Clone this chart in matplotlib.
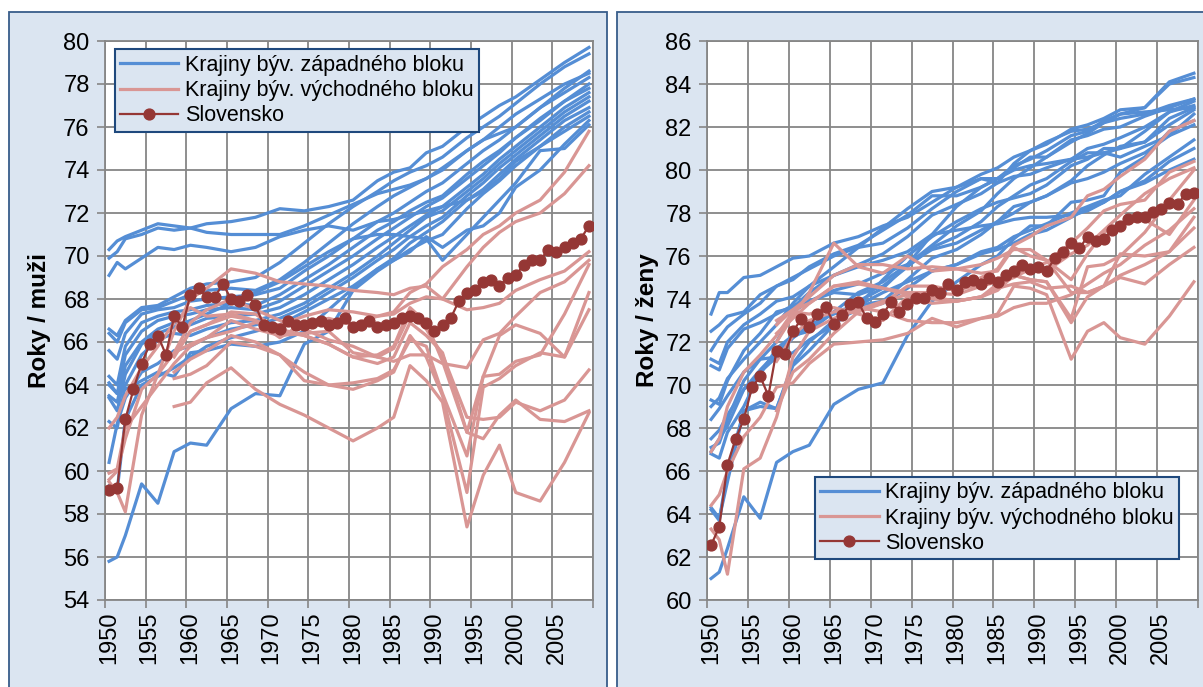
import numpy as np
import matplotlib.pyplot as plt
from matplotlib.patches import Rectangle
from matplotlib.lines import Line2D

plt.rcParams['font.family'] = ['Liberation Sans', 'DejaVu Sans']

# roky pre vsetky krajiny (vybrane body), Slovensko ma kazdy rok
roky = [1950, 1951, 1952, 1954, 1956, 1958, 1960, 1962, 1965, 1968, 1971, 1974, 1977,
        1980, 1983, 1985, 1987, 1989, 1991, 1994, 1996, 1998, 2000, 2003, 2006, 2009]
roky_sk = list(range(1950, 2010))
N = None

# muzi - krajiny byv. zapadneho bloku
muzi_zapad = [
    [70.3, 70.7, 70.9, 71.2, 71.5, 71.4, 71.3, 71.5, 71.6, 71.8, 72.2, 72.1, 72.3, 72.6, 73.5, 73.9, 74.1, 74.8, 75.1, 76.0, 76.5, 77.0, 77.4, 78.2, 79.0, 79.7],
    [69.9, 70.2, 70.8, 71.0, 71.3, 71.2, 71.3, 71.1, 71.0, 71.0, 71.0, 71.4, 71.9, 72.4, 72.9, 73.1, 73.3, 73.6, 74.1, 74.9, 75.4, 75.7, 76.0, 76.9, 77.8, 78.6],
    [69.1, 69.7, 69.4, 69.9, 70.4, 70.3, 70.5, 70.4, 70.2, 70.4, 70.9, 71.2, 71.4, 71.2, 71.6, 71.7, 71.9, 72.1, 72.3, 72.6, 73.0, 73.6, 74.4, 75.1, 76.0, 76.7],
    [66.6, 66.3, 67.0, 67.6, 67.7, 68.1, 68.5, 68.7, 68.8, 69.0, 69.7, 70.6, 71.5, 72.3, 73.0, 73.5, 73.9, 74.2, 74.6, 75.5, 76.0, 76.5, 77.1, 78.0, 78.8, 79.4],
    [66.4, 66.0, 66.9, 67.5, 67.6, 67.9, 68.2, 68.4, 68.5, 68.4, 68.9, 69.7, 70.6, 71.5, 72.3, 72.8, 73.2, 73.6, 74.0, 74.9, 75.4, 76.0, 76.6, 77.3, 78.0, 78.5],
    [65.6, 65.2, 66.4, 67.3, 67.5, 67.6, 67.9, 68.0, 68.1, 68.2, 68.5, 69.3, 70.0, 70.8, 71.6, 72.0, 72.5, 73.0, 73.4, 74.3, 74.9, 75.4, 76.0, 76.9, 77.6, 78.3],
    [64.4, 64.0, 65.8, 66.9, 67.2, 67.4, 67.5, 67.7, 67.8, 67.7, 68.2, 68.9, 69.6, 70.4, 71.2, 71.6, 72.1, 72.5, 72.8, 73.8, 74.4, 74.9, 75.5, 76.3, 77.2, 78.0],
    [64.1, 63.6, 65.4, 66.5, 67.0, 67.2, 67.3, 67.5, 67.6, 67.5, 67.9, 68.6, 69.3, 70.0, 70.8, 71.3, 71.8, 72.3, 72.7, 73.6, 74.2, 74.8, 75.5, 76.4, 77.2, 77.8],
    [63.5, 63.2, 64.9, 66.0, 66.6, 66.9, 66.8, 67.1, 67.2, 67.3, 67.6, 68.2, 68.9, 69.6, 70.4, 70.9, 71.4, 71.9, 72.3, 73.2, 73.8, 74.5, 75.1, 76.0, 76.9, 77.6],
    [62.3, 62.0, 64.0, 65.4, 66.1, 66.4, 66.3, 66.6, 66.9, 67.0, 67.3, 67.8, 68.5, 69.2, 70.0, 70.6, 71.2, 71.8, 72.1, 73.0, 73.6, 74.3, 74.9, 75.8, 76.7, 77.4],
    [60.4, 62.2, 63.4, 64.6, 65.0, 65.6, 65.8, 66.2, 66.6, 66.8, 67.1, 67.6, 68.3, 69.0, 69.8, 70.3, 70.9, 71.4, 71.8, 72.8, 73.4, 74.1, 74.7, 75.6, 76.5, 77.2],
    [59.3, 59.1, 62.4, 64.0, 64.4, 64.8, 65.3, 65.8, 66.2, 66.5, 66.8, 67.4, 68.0, 68.6, 69.4, 69.9, 70.6, 71.1, 71.6, 72.6, 73.1, 73.8, 74.5, 75.4, 76.3, 76.9],
    [64.0, 63.6, 63.8, 64.2, 64.6, 64.4, 65.5, 65.6, 65.9, 65.8, 66.0, 66.5, 67.5, 68.5, 69.4, 69.8, 70.3, 70.7, 71.0, 72.2, 72.9, 73.5, 74.2, 75.1, 75.8, 76.5],
    [63.4, 62.8, 64.5, 65.9, 66.4, 66.7, 67.0, 67.3, 67.8, 68.3, 68.8, 69.5, 70.2, 70.8, 71.0, 71.0, 70.9, 70.8, 69.8, 71.0, 71.8, 72.6, 73.4, 74.9, 75.0, 76.1],
    [55.8, 56.0, 57.0, 59.4, 58.5, 60.9, 61.3, 61.2, 62.9, 63.6, 63.5, 65.9, 66.5, 68.4, 69.3, 69.8, 70.2, 70.9, 70.4, 71.2, 71.4, 72.0, 73.2, 74.0, 75.2, 76.3],
]

# muzi - krajiny byv. vychodneho bloku
muzi_vychod = [
    [62.0, 62.5, 63.5, 64.8, 65.8, 66.9, 67.6, 67.2, 67.3, 67.0, 66.2, 66.9, 67.1, 66.8, 67.2, 67.3, 67.8, 68.1, 68.0, 69.5, 70.4, 71.1, 71.6, 72.0, 72.9, 74.2],
    [59.9, 60.1, 62.0, 63.0, 64.0, 65.0, 65.8, 66.2, 66.5, 66.9, 66.8, 67.2, 67.5, 67.4, 67.2, 67.4, 68.3, 68.7, 69.5, 70.3, 71.0, 71.4, 72.0, 72.6, 73.9, 75.8],
    [59.5, 59.0, 58.1, 62.6, 64.5, 66.5, 68.0, 68.5, 69.4, 69.2, 68.8, 68.7, 68.6, 68.4, 68.3, 68.2, 68.5, 68.6, 68.0, 67.5, 67.6, 67.8, 68.4, 68.9, 69.3, 70.2],
    [59.6, 60.0, 61.5, 63.8, 64.5, 65.5, 65.9, 66.2, 67.0, 66.6, 66.3, 66.4, 66.5, 65.5, 65.3, 65.1, 65.4, 65.4, 65.0, 64.8, 66.1, 66.4, 67.2, 68.3, 68.8, 69.8],
    [N, N, N, N, N, 63.0, 63.2, 64.1, 64.8, 63.8, 63.1, 62.6, 62.0, 61.4, 62.0, 62.5, 64.9, 64.2, 63.2, 57.4, 59.8, 61.2, 59.0, 58.6, 60.4, 62.7],
    [N, N, N, N, N, 65.3, 66.5, 66.8, 67.2, 67.0, 66.6, 66.3, 65.9, 65.3, 65.0, 65.3, 66.9, 66.3, 65.5, 61.8, 61.5, 62.6, 63.3, 62.4, 62.3, 62.8],
    [N, N, N, N, N, 65.5, 66.9, 67.5, 68.0, 67.5, 67.0, 66.6, 66.1, 65.8, 65.3, 65.7, 67.3, 66.6, 65.4, 62.5, 62.4, 62.5, 63.2, 62.8, 63.3, 64.7],
    [N, N, N, N, N, 64.6, 65.2, 65.6, 66.3, 66.0, 65.4, 64.6, 64.0, 63.8, 64.2, 64.6, 66.3, 65.3, 63.5, 59.0, 63.9, 64.3, 64.9, 65.5, 65.3, 68.3],
    [N, N, N, N, N, 65.4, 66.5, 66.8, 67.4, 67.3, 66.5, 66.3, 65.9, 65.3, 65.4, 65.8, 67.6, 66.9, 65.1, 61.8, 64.4, 66.3, 66.8, 66.4, 65.3, 67.5],
    [N, N, N, N, N, 64.3, 64.5, 64.9, 66.0, 65.8, 65.4, 64.2, 64.0, 64.1, 64.3, 64.7, 66.1, 65.8, 63.6, 60.7, 64.4, 64.5, 65.1, 65.4, 67.3, 69.6],
]

muzi_sk = [59.1, 59.2, 62.4, 63.8, 65.0, 65.9, 66.3, 65.4, 67.2, 66.7,
           68.2, 68.5, 68.1, 68.1, 68.7, 68.0, 67.9, 68.2, 67.7, 66.8,
           66.7, 66.6, 67.0, 66.8, 66.8, 66.9, 67.0, 66.8, 66.9, 67.1,
           66.7, 66.8, 67.0, 66.7, 66.8, 66.9, 67.1, 67.2, 67.1, 66.9,
           66.5, 66.8, 67.1, 67.9, 68.3, 68.4, 68.8, 68.9, 68.6, 69.0,
           69.1, 69.6, 69.8, 69.8, 70.3, 70.2, 70.4, 70.6, 70.8, 71.4]

# zeny - krajiny byv. zapadneho bloku
zeny_zapad = [
    [73.3, 74.3, 74.3, 75.0, 75.1, 75.5, 75.9, 76.0, 76.6, 76.9, 77.4, 77.8, 78.5, 79.2, 79.6, 79.4, 79.7, 79.8, 80.1, 80.5, 81.0, 81.2, 81.5, 82.0, 82.7, 83.2],
    [72.5, 72.8, 73.2, 73.4, 74.2, 74.6, 74.9, 75.5, 76.1, 76.5, 77.2, 77.9, 78.8, 78.8, 79.2, 79.6, 80.1, 80.6, 80.6, 81.4, 81.6, 81.9, 82.0, 82.5, 82.9, 83.3],
    [71.6, 72.2, 72.7, 73.3, 73.8, 74.6, 75.0, 75.4, 76.0, 76.4, 76.6, 77.3, 78.2, 79.0, 79.6, 79.6, 80.0, 80.2, 80.3, 80.5, 80.6, 80.8, 80.6, 81.1, 81.6, 82.6],
    [71.2, 71.0, 72.0, 72.8, 73.3, 73.9, 74.1, 74.6, 75.1, 75.5, 75.8, 76.2, 77.0, 77.2, 77.4, 77.5, 77.7, 77.8, 77.8, 77.9, 78.1, 78.5, 79.0, 79.5, 80.4, 81.0],
    [70.9, 70.7, 71.7, 72.6, 72.9, 73.3, 73.7, 73.9, 74.4, 74.7, 75.2, 75.6, 76.3, 76.6, 77.2, 77.6, 78.0, 78.5, 78.8, 79.4, 79.6, 79.9, 80.3, 80.8, 81.6, 82.1],
    [69.3, 69.1, 70.2, 71.6, 72.4, 73.4, 73.6, 74.3, 75.1, 75.6, 76.1, 76.9, 77.9, 78.4, 78.9, 79.4, 80.3, 80.9, 81.2, 81.9, 82.1, 82.4, 82.8, 82.9, 84.1, 84.5],
    [69.0, 69.4, 70.3, 71.2, 72.0, 72.8, 73.8, 74.6, 75.5, 76.4, 77.3, 78.2, 79.0, 79.2, 79.8, 80.1, 80.6, 80.9, 81.3, 81.8, 81.9, 82.2, 82.4, 82.6, 83.0, 83.3],
    [68.4, 68.9, 69.5, 70.6, 71.2, 72.0, 73.4, 73.9, 74.3, 74.2, 74.6, 75.5, 76.4, 76.9, 77.6, 78.3, 78.8, 79.3, 79.6, 80.4, 80.8, 80.8, 81.0, 81.3, 82.1, 82.8],
    [67.5, 67.9, 68.6, 69.8, 70.7, 71.5, 72.2, 72.8, 73.3, 73.7, 73.9, 74.9, 75.9, 76.3, 77.0, 77.6, 78.3, 78.5, 78.8, 79.5, 80.2, 80.7, 81.1, 81.3, 82.4, 82.9],
    [66.9, 67.5, 68.1, 69.8, 70.5, 71.7, 72.3, 72.5, 73.4, 74.3, 74.8, 75.6, 76.5, 77.4, 78.1, 78.9, 79.6, 80.1, 80.6, 81.3, 81.7, 82.2, 82.6, 82.7, 82.8, 82.9],
    [64.3, 63.8, 65.5, 68.8, 69.2, 68.9, 70.9, 71.6, 72.8, 73.9, 74.5, 75.6, 77.0, 78.3, 79.2, 79.6, 80.2, 80.5, 80.9, 81.6, 81.8, 82.3, 82.6, 82.9, 84.0, 84.3],
    [61.0, 61.3, 62.4, 64.8, 63.8, 66.4, 66.9, 67.2, 69.1, 69.8, 70.1, 72.3, 73.9, 74.8, 75.6, 76.0, 76.8, 77.4, 77.4, 78.5, 78.6, 78.8, 79.9, 80.6, 81.8, 82.3],
    [66.8, 66.6, 67.8, 69.0, 70.6, 71.3, 71.5, 72.1, 72.8, 73.7, 74.9, 76.0, 76.9, 77.6, 78.2, 78.5, 78.7, 78.9, 79.3, 80.2, 80.5, 81.0, 81.0, 81.8, 82.7, 83.0],
    [67.1, 67.3, 68.4, 70.2, 71.2, 71.3, 72.2, 72.7, 73.4, 73.7, 74.3, 74.8, 75.3, 75.6, 76.2, 76.4, 76.9, 77.2, 77.5, 78.0, 78.3, 78.6, 78.8, 79.8, 80.6, 81.4],
    [64.2, 63.7, 66.0, 68.8, 69.0, 68.9, 71.0, 72.0, 73.0, 73.5, 73.8, 74.5, 75.3, 75.6, 76.1, 76.3, 76.6, 77.0, 77.2, 77.8, 78.2, 78.5, 79.0, 79.4, 80.0, 80.5],
]

# zeny - krajiny byv. vychodneho bloku
zeny_vychod = [
    [66.9, 67.5, 69.0, 70.6, 71.4, 72.3, 73.4, 73.3, 73.6, 73.3, 73.0, 74.1, 74.1, 73.9, 74.1, 74.7, 75.0, 75.4, 75.7, 76.6, 77.3, 78.1, 78.4, 78.6, 79.9, 80.4],
    [N, N, N, N, N, N, N, N, N, N, N, N, N, N, 75.0, 75.4, 76.5, 76.9, 77.4, 77.8, 78.8, 79.1, 79.7, 80.5, 81.8, 82.3],
    [64.4, 64.9, 66.0, 67.6, 68.5, 69.9, 70.1, 71.0, 71.9, 72.0, 72.1, 72.4, 73.1, 72.7, 73.1, 73.2, 73.6, 73.8, 73.8, 74.2, 74.7, 75.2, 75.6, 76.5, 77.2, 78.2],
    [63.3, 62.8, 61.2, 66.1, 66.6, 68.5, 71.3, 72.5, 73.1, 73.5, 73.9, 74.2, 73.8, 73.9, 74.1, 74.5, 74.7, 74.8, 74.5, 74.6, 74.3, 74.6, 75.1, 75.6, 76.2, 77.3],
    [N, N, N, N, N, 68.8, 70.6, 71.2, 72.4, 73.4, 73.8, 74.6, 74.6, 74.4, 74.7, 74.8, 75.2, 75.5, 75.3, 76.1, 76.5, 77.2, 77.9, 78.9, 79.6, 80.1],
    [N, N, N, N, N, 71.1, 72.3, 73.0, 73.4, 73.6, 73.4, 73.0, 72.9, 72.9, 73.1, 73.3, 74.6, 74.5, 74.2, 71.2, 72.5, 72.9, 72.2, 71.9, 73.2, 74.8],
    [N, N, N, N, N, 73.0, 73.5, 73.8, 74.6, 74.8, 74.5, 74.2, 74.0, 73.9, 74.1, 74.4, 75.1, 74.9, 74.8, 72.9, 74.1, 74.6, 76.1, 76.0, 76.2, 77.8],
    [N, N, N, N, N, 72.8, 73.5, 74.1, 75.1, 75.6, 75.6, 75.4, 75.5, 75.4, 75.2, 75.3, 76.4, 76.0, 75.8, 74.3, 74.3, 74.6, 75.0, 74.7, 75.6, 76.4],
    [N, N, N, N, N, 72.0, 73.2, 74.3, 76.6, 75.5, 75.2, 76.0, 75.3, 75.4, 75.6, 75.9, 76.3, 76.3, 75.8, 74.9, 76.1, 77.1, 77.5, 77.7, 77.0, 78.6],
    [N, N, N, N, N, 72.4, 73.1, 73.8, 74.6, 74.7, 74.5, 74.3, 74.3, 74.2, 74.6, 74.8, 75.1, 74.9, 74.8, 73.1, 75.5, 75.6, 76.0, 77.1, 78.6, 80.0],
]

zeny_sk = [62.55, 63.4, 66.3, 67.5, 68.4, 69.9, 70.4, 69.5, 71.6, 71.45,
           72.5, 73.05, 72.7, 73.3, 73.65, 72.85, 73.25, 73.75, 73.85, 73.1,
           72.95, 73.3, 73.85, 73.4, 73.75, 74.05, 74.05, 74.4, 74.3, 74.7,
           74.4, 74.8, 74.9, 74.7, 75.0, 74.8, 75.1, 75.3, 75.6, 75.4,
           75.5, 75.3, 75.9, 76.2, 76.6, 76.35, 76.9, 76.7, 76.8, 77.2,
           77.4, 77.7, 77.8, 77.8, 78.05, 78.2, 78.45, 78.4, 78.9, 78.95]

MODRA = '#558ed5'
RUZOVA = '#d99694'
SK_FARBA = '#953735'
MRIEZKA = '#868686'
POZADIE = '#dbe5f1'
RAM = '#385d8a'

W, H = 1203, 687
fig = plt.figure(figsize=(W / 100, H / 100), dpi=100)

# svetlomodre ramceky okolo grafov
for x0, x1 in [(9, 607), (617, 1215)]:
    fig.patches.append(Rectangle((x0 / W, -0.05), (x1 - x0) / W, 1.05 - 12 / H,
                                 transform=fig.transFigure, facecolor=POZADIE,
                                 edgecolor=RAM, linewidth=1.3, zorder=-5))


def kresli(ax, zapad, vychod, sk, ymin, ymax, ylabel, leg_xy, ylab_x):
    for r in zapad:
        ax.plot(roky, np.array(r, dtype=float), color=MODRA, lw=2.3, zorder=2)
    for r in vychod:
        ax.plot(roky, np.array(r, dtype=float), color=RUZOVA, lw=2.3, zorder=3)
    ax.plot(roky_sk, sk, color=SK_FARBA, lw=1.6, marker='o', markersize=7.8, zorder=4)

    ax.set_facecolor('white')
    ax.set_xlim(1949.5, 2009.5)
    ax.set_ylim(ymin, ymax)
    ax.set_yticks(np.arange(ymin, ymax + 1, 2))
    ax.set_xticks(np.arange(1949.5, 2010, 5))
    ax.set_xticklabels([])
    ax.set_xticks(np.arange(1950, 2006, 5), minor=True)
    ax.set_xticklabels([str(y) for y in range(1950, 2006, 5)], minor=True,
                       rotation=90, fontsize=17)
    ax.tick_params(axis='x', which='minor', length=0, pad=8)
    ax.tick_params(axis='x', which='major', length=6, width=1.2, color=MRIEZKA)
    ax.tick_params(axis='y', length=6, width=1.2, color=MRIEZKA, labelsize=17, pad=5)
    ax.grid(True, which='major', color=MRIEZKA, lw=1.3, zorder=1)
    ax.set_axisbelow(True)
    for s in ax.spines.values():
        s.set_color(MRIEZKA)
        s.set_linewidth(1.3)
    ax.set_ylabel(ylabel, fontsize=17.5, fontweight='bold')
    ax.yaxis.set_label_coords(ylab_x, 0.5)

    handles = [Line2D([], [], color=MODRA, lw=2.3),
               Line2D([], [], color=RUZOVA, lw=2.3),
               Line2D([], [], color=SK_FARBA, lw=1.6, marker='o', markersize=7.8)]
    labels = ['Krajiny býv. západného bloku', 'Krajiny býv. východného bloku', 'Slovensko']
    leg = ax.legend(handles, labels, loc='upper left', bbox_to_anchor=leg_xy,
                    borderaxespad=0, fontsize=15.5, fancybox=False, framealpha=1,
                    facecolor=POZADIE, edgecolor='#1f497d', handlelength=2.7,
                    handletextpad=0.3, labelspacing=0.2, borderpad=0.25)
    leg.get_frame().set_linewidth(1.5)
    leg.set_zorder(10)


ax1 = fig.add_axes([105 / W, 1 - 600 / H, 488 / W, 559 / H])
kresli(ax1, muzi_zapad, muzi_vychod, muzi_sk, 54, 80, 'Roky / muži', (0.02, 0.985), -0.11)

ax2 = fig.add_axes([707 / W, 1 - 600 / H, 491 / W, 559 / H])
kresli(ax2, zeny_zapad, zeny_vychod, zeny_sk, 60, 86, 'Roky / ženy', (0.22, 0.22), -0.097)

fig.savefig('out.png', dpi=100)
